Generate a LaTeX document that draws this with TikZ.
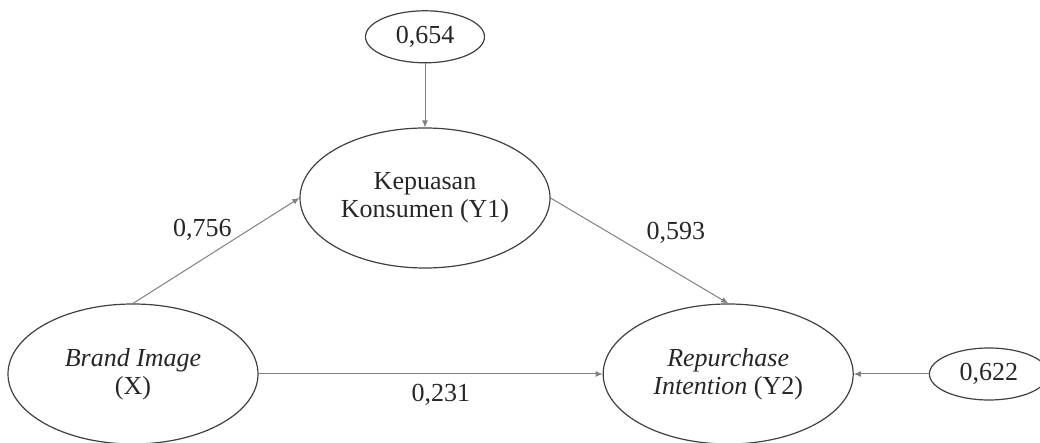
\documentclass[tikz,border=0pt]{standalone}
\usepackage{fontspec}
\setmainfont{Liberation Serif}
\usepackage{tikz}
\usetikzlibrary{positioning,shapes.geometric,arrows.meta}

\begin{document}
\begin{tikzpicture}[auto,
    font=\fontsize{13}{14}\selectfont,
    construct/.style={ellipse,draw=black!75,line width=0.6pt,text=black!85,
        minimum width=125pt,minimum height=70pt,inner sep=0pt,align=center},
    residual/.style={ellipse,draw=black!75,line width=0.6pt,text=black!85,
        minimum width=59.5pt,minimum height=26pt,inner sep=0pt},
    conn/.style={draw=black!50,line width=0.5pt,-{Latex[length=3.5pt,width=3pt]}}]
    \useasboundingbox (0,0) rectangle (520pt,-221.5pt);
    \node[construct] (brand) at (66.5pt,-187pt) {\textit{Brand Image}\\(X)};
    \node[construct] (kons) at (212.5pt,-99pt) {Kepuasan\\Konsumen (Y1)};
    \node[construct] (rep) [right = 172pt of brand] {\textit{Repurchase}\\\textit{Intention} (Y2)};
    \node[residual] (err1) [above = 32pt of kons] {0,654};
    \node[residual] (err2) [right = 37.5pt of rep] {0,622};
    \path (err1.south)
        edge[conn] (kons.north);
    \path (err2.west)
        edge[conn] (rep.east);
    \path (brand.north)
        edge[conn] node[pos=0.6,xshift=3pt,yshift=-4pt,text=black!85] {0,756} (kons.west);
    \path (kons.east)
        edge[conn] node[text=black!85] {0,593} (rep.north);
    \path (brand.east)
        edge[conn] node[pos=0.53,below=1.5pt,text=black!85] {0,231} (rep.west);
\end{tikzpicture}
\end{document}
